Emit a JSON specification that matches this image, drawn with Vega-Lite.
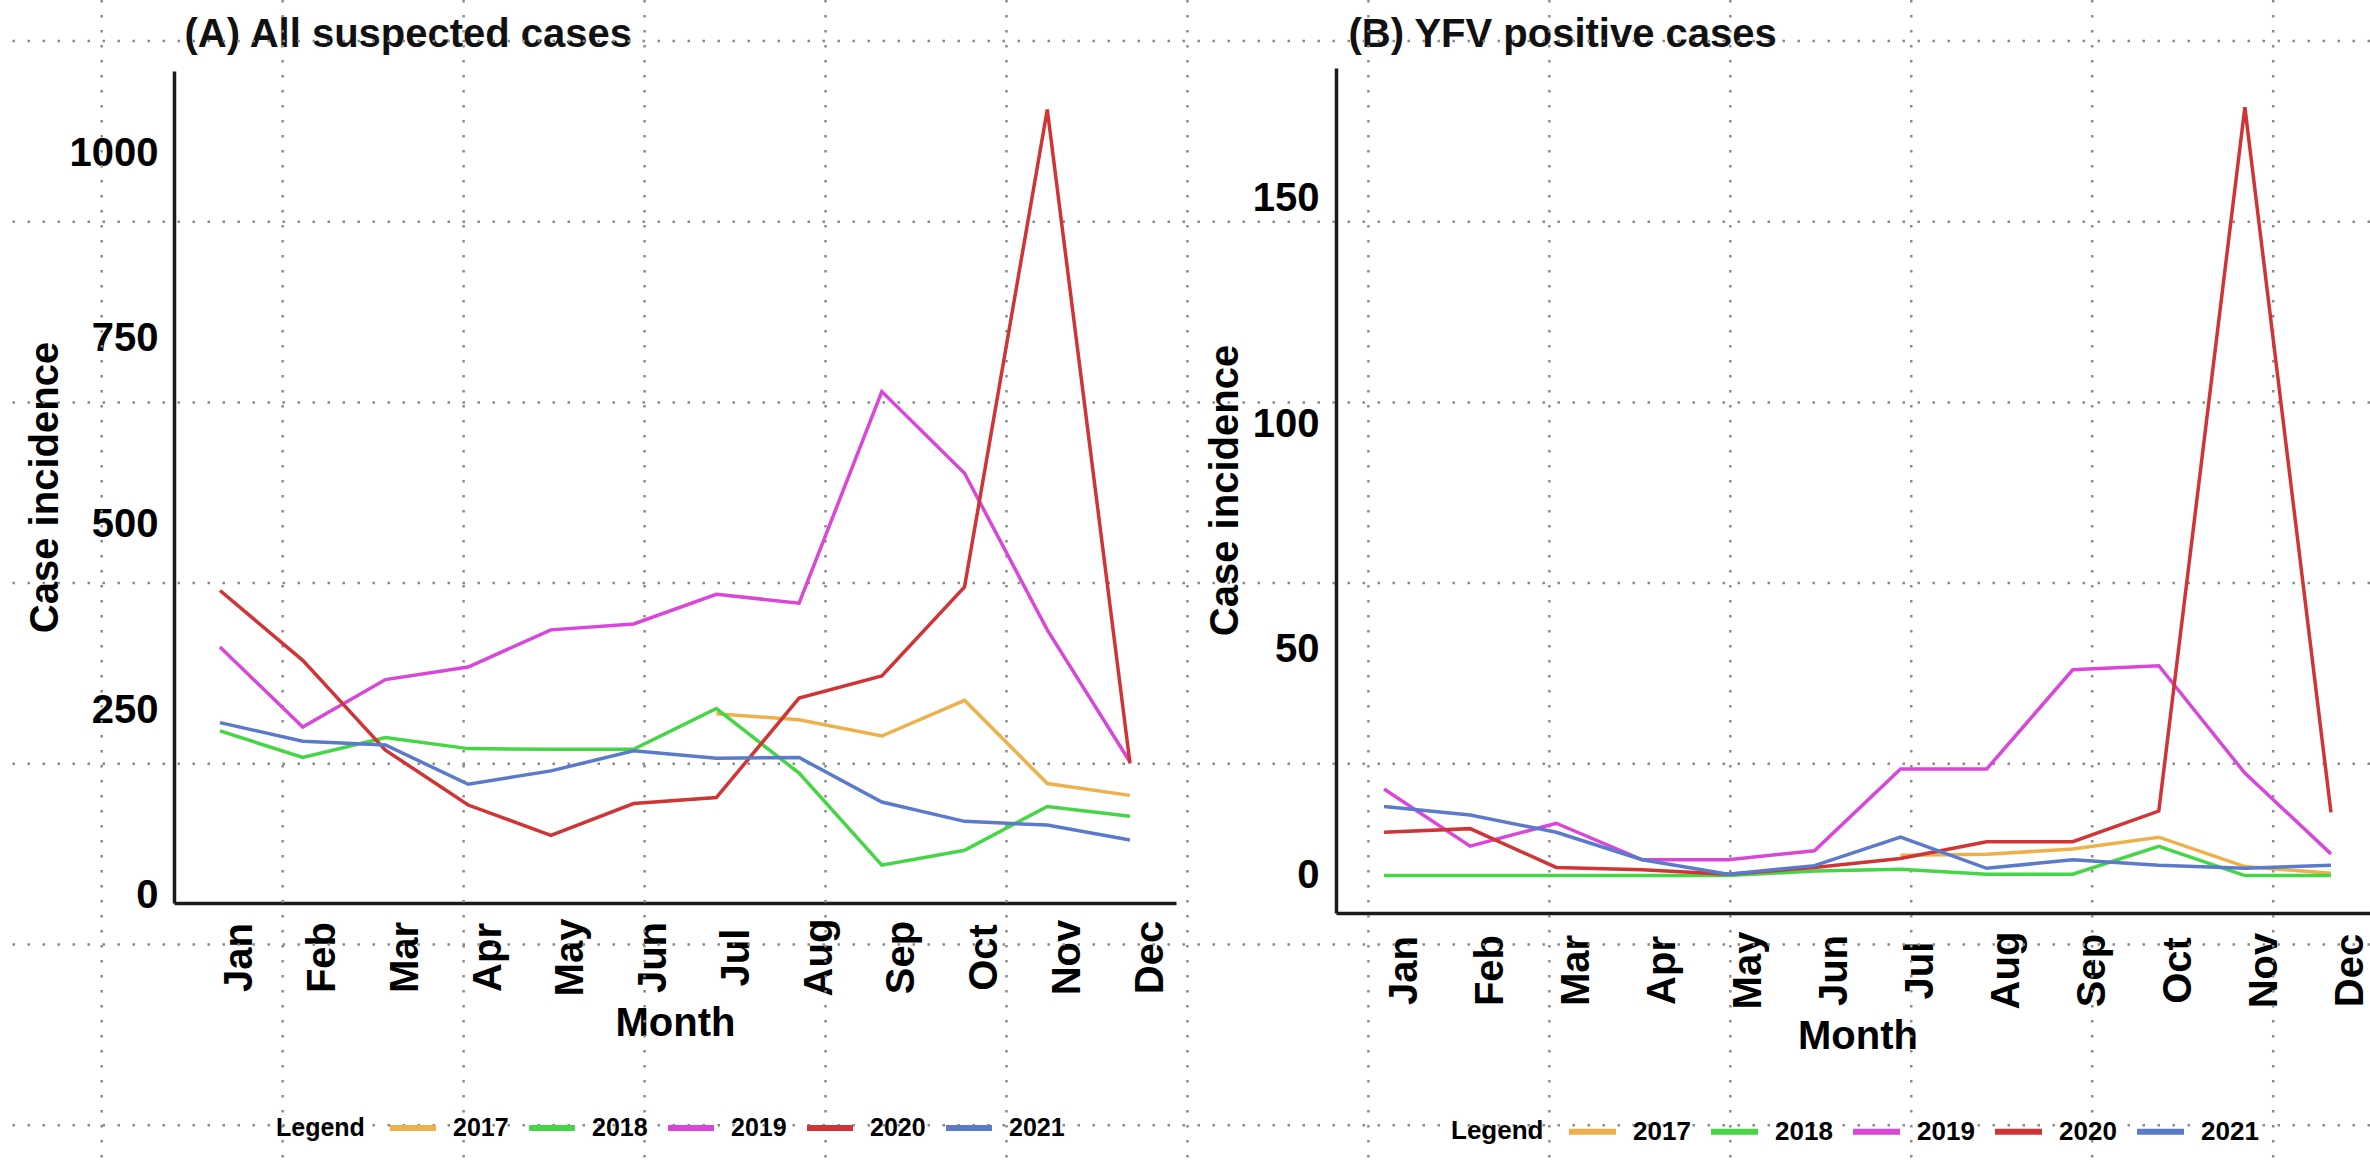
{
  "$schema": "https://vega.github.io/schema/vega-lite/v6.json",
  "width": 2370,
  "height": 1161,
  "autosize": {"type": "none"},
  "padding": 0,
  "background": "white",
  "config": {"font": "Liberation Sans", "view": {"stroke": null}, "axis": {"grid": false}},
  "datasets": {
    "gridCols": [{"k":0},{"k":1},{"k":2},{"k":3},{"k":4},{"k":5},{"k":6},{"k":7},{"k":8},{"k":9},{"k":10},{"k":11},{"k":12}],
    "gridRows": [{"k":0},{"k":1},{"k":2},{"k":3},{"k":4},{"k":5},{"k":6}],
    "suspected": [
      {"month":"Jul","year":"2017","cases":245},{"month":"Aug","year":"2017","cases":237},{"month":"Sep","year":"2017","cases":215},{"month":"Oct","year":"2017","cases":263},{"month":"Nov","year":"2017","cases":151},{"month":"Dec","year":"2017","cases":135},
      {"month":"Jan","year":"2018","cases":222},{"month":"Feb","year":"2018","cases":186},{"month":"Mar","year":"2018","cases":213},{"month":"Apr","year":"2018","cases":198},{"month":"May","year":"2018","cases":197},{"month":"Jun","year":"2018","cases":197},{"month":"Jul","year":"2018","cases":252},{"month":"Aug","year":"2018","cases":165},{"month":"Sep","year":"2018","cases":41},{"month":"Oct","year":"2018","cases":61},{"month":"Nov","year":"2018","cases":120},{"month":"Dec","year":"2018","cases":107},
      {"month":"Jan","year":"2019","cases":335},{"month":"Feb","year":"2019","cases":227},{"month":"Mar","year":"2019","cases":291},{"month":"Apr","year":"2019","cases":308},{"month":"May","year":"2019","cases":358},{"month":"Jun","year":"2019","cases":366},{"month":"Jul","year":"2019","cases":406},{"month":"Aug","year":"2019","cases":394},{"month":"Sep","year":"2019","cases":679},{"month":"Oct","year":"2019","cases":569},{"month":"Nov","year":"2019","cases":358},{"month":"Dec","year":"2019","cases":180},
      {"month":"Jan","year":"2020","cases":411},{"month":"Feb","year":"2020","cases":317},{"month":"Mar","year":"2020","cases":196},{"month":"Apr","year":"2020","cases":122},{"month":"May","year":"2020","cases":81},{"month":"Jun","year":"2020","cases":124},{"month":"Jul","year":"2020","cases":132},{"month":"Aug","year":"2020","cases":266},{"month":"Sep","year":"2020","cases":296},{"month":"Oct","year":"2020","cases":416},{"month":"Nov","year":"2020","cases":1059},{"month":"Dec","year":"2020","cases":178},
      {"month":"Jan","year":"2021","cases":233},{"month":"Feb","year":"2021","cases":208},{"month":"Mar","year":"2021","cases":203},{"month":"Apr","year":"2021","cases":150},{"month":"May","year":"2021","cases":168},{"month":"Jun","year":"2021","cases":195},{"month":"Jul","year":"2021","cases":185},{"month":"Aug","year":"2021","cases":186},{"month":"Sep","year":"2021","cases":126},{"month":"Oct","year":"2021","cases":100},{"month":"Nov","year":"2021","cases":95},{"month":"Dec","year":"2021","cases":75}
    ],
    "positive": [
      {"month":"Jul","year":"2017","cases":4.5},{"month":"Aug","year":"2017","cases":4.7},{"month":"Sep","year":"2017","cases":5.9},{"month":"Oct","year":"2017","cases":8.5},{"month":"Nov","year":"2017","cases":2},{"month":"Dec","year":"2017","cases":0.5},
      {"month":"Jan","year":"2018","cases":0},{"month":"Feb","year":"2018","cases":0},{"month":"Mar","year":"2018","cases":0},{"month":"Apr","year":"2018","cases":0},{"month":"May","year":"2018","cases":0},{"month":"Jun","year":"2018","cases":1},{"month":"Jul","year":"2018","cases":1.4},{"month":"Aug","year":"2018","cases":0.3},{"month":"Sep","year":"2018","cases":0.3},{"month":"Oct","year":"2018","cases":6.5},{"month":"Nov","year":"2018","cases":0},{"month":"Dec","year":"2018","cases":0},
      {"month":"Jan","year":"2019","cases":19.2},{"month":"Feb","year":"2019","cases":6.5},{"month":"Mar","year":"2019","cases":11.6},{"month":"Apr","year":"2019","cases":3.5},{"month":"May","year":"2019","cases":3.5},{"month":"Jun","year":"2019","cases":5.5},{"month":"Jul","year":"2019","cases":23.6},{"month":"Aug","year":"2019","cases":23.6},{"month":"Sep","year":"2019","cases":45.6},{"month":"Oct","year":"2019","cases":46.5},{"month":"Nov","year":"2019","cases":22.7},{"month":"Dec","year":"2019","cases":4.8},
      {"month":"Jan","year":"2020","cases":9.6},{"month":"Feb","year":"2020","cases":10.4},{"month":"Mar","year":"2020","cases":1.8},{"month":"Apr","year":"2020","cases":1.3},{"month":"May","year":"2020","cases":0.3},{"month":"Jun","year":"2020","cases":1.8},{"month":"Jul","year":"2020","cases":3.8},{"month":"Aug","year":"2020","cases":7.5},{"month":"Sep","year":"2020","cases":7.5},{"month":"Oct","year":"2020","cases":14.3},{"month":"Nov","year":"2020","cases":170.3},{"month":"Dec","year":"2020","cases":14},
      {"month":"Jan","year":"2021","cases":15.3},{"month":"Feb","year":"2021","cases":13.4},{"month":"Mar","year":"2021","cases":9.6},{"month":"Apr","year":"2021","cases":3.5},{"month":"May","year":"2021","cases":0.3},{"month":"Jun","year":"2021","cases":2.2},{"month":"Jul","year":"2021","cases":8.5},{"month":"Aug","year":"2021","cases":1.6},{"month":"Sep","year":"2021","cases":3.5},{"month":"Oct","year":"2021","cases":2.3},{"month":"Nov","year":"2021","cases":1.6},{"month":"Dec","year":"2021","cases":2.3}
    ]
  },
  "layer": [
    {
      "data": {"name": "gridCols"},
      "mark": {"type": "rule", "color": "#8a8a8a", "strokeWidth": 2.5, "strokeDash": [2.5, 12.5]},
      "encoding": {
        "x": {"field": "k", "type": "quantitative",
          "scale": {"domain": [-0.562, 12.535], "range": [0, 2370], "nice": false, "zero": false},
          "axis": {"orient": "top", "labels": false, "ticks": false, "domain": false, "grid": false,
            "title": "(A) All suspected cases", "titleX": 184, "titleY": 46, "titleAlign": "left", "titleAnchor": "start",
            "titleBaseline": "alphabetic", "titleFontSize": 40, "titleFontWeight": "bold", "titleColor": "#111111"}}
      }
    },
    {
      "data": {"name": "gridRows"},
      "mark": {"type": "rule", "color": "#8a8a8a", "strokeWidth": 2.5, "strokeDash": [2.5, 12.5]},
      "encoding": {
        "y": {"field": "k", "type": "quantitative",
          "scale": {"domain": [-0.2269, 6.198], "range": [0, 1161], "nice": false, "zero": false},
          "axis": {"orient": "left", "labels": false, "ticks": false, "domain": false, "grid": false,
            "title": "(B) YFV positive cases", "titleAngle": 0, "titleX": 1348, "titleY": 46, "titleAlign": "left", "titleAnchor": "start",
            "titleBaseline": "alphabetic", "titleFontSize": 40, "titleFontWeight": "bold", "titleColor": "#111111"}}
      }
    },
    {
      "data": {"name": "suspected"},
      "mark": {"type": "line", "strokeWidth": 3.5},
      "encoding": {
        "x": {"field": "month", "type": "ordinal",
          "sort": ["Jan","Feb","Mar","Apr","May","Jun","Jul","Aug","Sep","Oct","Nov","Dec"],
          "scale": {"type": "point", "range": [174, 1176], "padding": 0.556},
          "axis": {"orient": "bottom", "offset": -258, "domain": true, "domainColor": "#1a1a1a", "domainWidth": 3.5,
            "ticks": false, "grid": false, "labelAngle": 270, "labelAlign": "center", "labelBaseline": "top",
            "labelPadding": 54, "labelFontSize": 40, "labelFontWeight": "bold", "labelColor": "#000000",
            "title": "Month", "titleY": 132, "titleBaseline": "alphabetic", "titleFontSize": 40, "titleFontWeight": "bold", "titleColor": "#000000"}},
        "y": {"field": "cases", "type": "quantitative",
          "scale": {"domain": [-10, 1111], "range": [903, 71], "nice": false, "zero": false},
          "axis": {"orient": "left", "offset": -174, "values": [0, 250, 500, 750, 1000], "format": "d", "domain": true, "domainColor": "#1a1a1a", "domainWidth": 3.5,
            "ticks": false, "grid": false, "labelPadding": 16, "labelFontSize": 40, "labelFontWeight": "bold", "labelColor": "#000000",
            "title": "Case incidence", "titleX": -117, "titleY": 487, "titleAngle": 270, "titleAlign": "center", "titleBaseline": "alphabetic",
            "titleFontSize": 40, "titleFontWeight": "bold", "titleColor": "#000000"}},
        "color": {"field": "year", "type": "nominal",
          "scale": {"domain": ["2017","2018","2019","2020","2021"], "range": ["#EDB04A","#44D644","#D946D9","#D03434","#5A7BCB"]},
          "legend": {"orient": "none", "legendX": 276, "legendY": 1102, "direction": "horizontal", "title": "Legend",
            "titleOrient": "left", "titleAnchor": "middle", "titleBaseline": "line-top", "titleLineHeight": 13, "titleFontSize": 25, "titleFontWeight": "bold", "titleColor": "#000000", "titlePadding": 22,
            "labelFontSize": 25, "labelFontWeight": "bold", "labelColor": "#000000", "labelOffset": 14,
            "symbolType": "stroke", "symbolSize": 2116, "symbolStrokeWidth": 6, "columnPadding": 8}}
      }
    },
    {
      "data": {"name": "positive"},
      "mark": {"type": "line", "strokeWidth": 3.5},
      "encoding": {
        "x": {"field": "month", "type": "ordinal",
          "sort": ["Jan","Feb","Mar","Apr","May","Jun","Jul","Aug","Sep","Oct","Nov","Dec"],
          "scale": {"type": "point", "range": [1336, 2379], "padding": 0.558},
          "axis": {"orient": "bottom", "offset": -248, "domain": true, "domainColor": "#1a1a1a", "domainWidth": 3.5,
            "ticks": false, "grid": false, "labelAngle": 270, "labelAlign": "center", "labelBaseline": "top",
            "labelPadding": 57, "labelFontSize": 40, "labelFontWeight": "bold", "labelColor": "#000000",
            "title": "Month", "titleY": 135, "titleBaseline": "alphabetic", "titleFontSize": 40, "titleFontWeight": "bold", "titleColor": "#000000"}},
        "y": {"field": "cases", "type": "quantitative",
          "scale": {"domain": [-8.3, 179], "range": [913, 68], "nice": false, "zero": false},
          "axis": {"orient": "left", "offset": -1336, "values": [0, 50, 100, 150], "format": "d", "domain": true, "domainColor": "#1a1a1a", "domainWidth": 3.5,
            "ticks": false, "grid": false, "labelPadding": 17, "labelFontSize": 40, "labelFontWeight": "bold", "labelColor": "#000000",
            "title": "Case incidence", "titleX": -99, "titleY": 490, "titleAngle": 270, "titleAlign": "center", "titleBaseline": "alphabetic",
            "titleFontSize": 40, "titleFontWeight": "bold", "titleColor": "#000000"}},
        "color": {"field": "year", "type": "nominal",
          "scale": {"domain": ["2017","2018","2019","2020","2021"], "range": ["#EDB04A","#44D644","#D946D9","#D03434","#5A7BCB"]},
          "legend": {"orient": "none", "legendX": 1451, "legendY": 1105, "direction": "horizontal", "title": "Legend",
            "titleOrient": "left", "titleAnchor": "middle", "titleBaseline": "line-top", "titleLineHeight": 13, "titleFontSize": 26, "titleFontWeight": "bold", "titleColor": "#000000", "titlePadding": 22,
            "labelFontSize": 26, "labelFontWeight": "bold", "labelColor": "#000000", "labelOffset": 14,
            "symbolType": "stroke", "symbolSize": 2209, "symbolStrokeWidth": 6, "columnPadding": 8}}
      }
    }
  ],
  "resolve": {
    "scale": {"x": "independent", "y": "independent", "color": "independent"},
    "axis": {"x": "independent", "y": "independent"},
    "legend": {"color": "independent"}
  }
}
